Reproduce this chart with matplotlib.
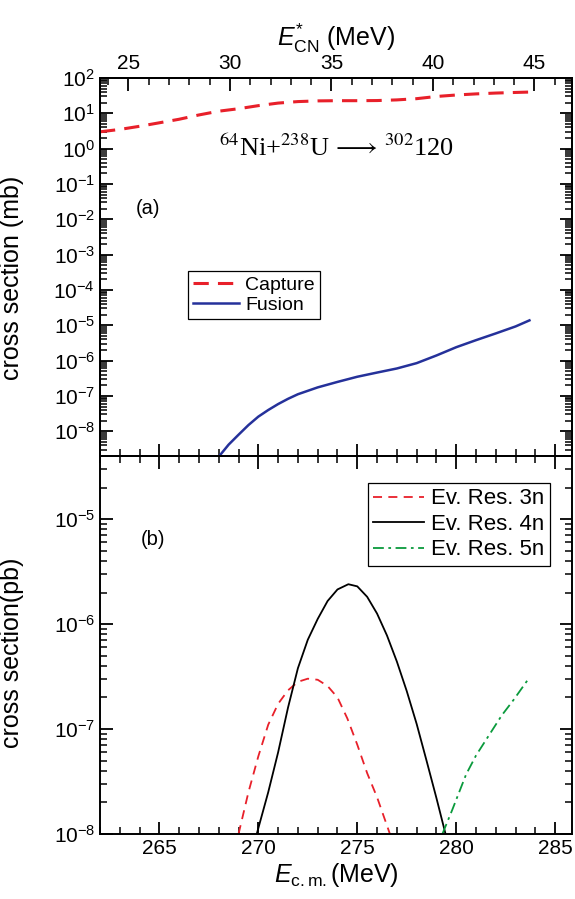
import numpy as np
import matplotlib
matplotlib.use('Agg')
import matplotlib.pyplot as plt
from matplotlib.ticker import LogLocator, FixedLocator, MultipleLocator

plt.rcParams['font.family'] = ['Liberation Sans', 'DejaVu Sans']
plt.rcParams['mathtext.fontset'] = 'custom'
plt.rcParams['mathtext.rm'] = 'Liberation Sans'
plt.rcParams['mathtext.it'] = 'Liberation Sans:italic'
plt.rcParams['axes.linewidth'] = 1.4
for a in ('xtick', 'ytick'):
    plt.rcParams[a + '.direction'] = 'in'
    plt.rcParams[a + '.major.size'] = 9
    plt.rcParams[a + '.minor.size'] = 5
    plt.rcParams[a + '.major.width'] = 1.3
    plt.rcParams[a + '.minor.width'] = 1.1
    plt.rcParams[a + '.labelsize'] = 15
plt.rcParams['ytick.right'] = True

# capture cross section (mb) vs E_cm (MeV)
e_capture = [262.0, 263.0, 264.0, 265.0, 266.0, 267.0, 268.0, 269.0, 270.0, 271.0,
             272.0, 273.0, 274.0, 275.0, 276.0, 277.0, 278.0, 279.0, 280.0, 281.0,
             282.0, 283.0, 283.7]
sigma_capture = [3.0, 3.5, 4.3, 5.4, 6.8, 9.0, 11.5, 13.5, 16.5, 19.5,
                 21.5, 22.5, 22.8, 22.8, 23.0, 24.0, 26.0, 30.0, 33.0, 35.5,
                 37.5, 39.0, 40.0]

# fusion cross section (mb)
e_fusion = [268.03, 268.5, 269.0, 269.5, 270.0, 270.5, 271.0, 271.5, 272.0, 273.0,
            274.0, 275.0, 276.0, 277.0, 278.0, 279.0, 280.0, 281.0, 282.0, 283.0, 283.7]
sigma_fusion = [2.0e-9, 4.2e-9, 8.0e-9, 1.5e-8, 2.6e-8, 4.0e-8, 5.9e-8, 8.3e-8, 1.12e-7, 1.75e-7,
                2.5e-7, 3.5e-7, 4.6e-7, 6.0e-7, 8.5e-7, 1.4e-6, 2.4e-6, 3.8e-6, 5.9e-6, 9.3e-6, 1.38e-5]

# evaporation residues (pb)
e_3n = [269.0, 269.5, 270.0, 270.5, 271.0, 271.5, 272.0, 272.5, 273.0, 273.5,
        274.0, 274.5, 275.0, 275.5, 276.0, 276.65]
sigma_3n = [1.0e-8, 2.5e-8, 5.5e-8, 1.1e-7, 1.74e-7, 2.34e-7, 2.82e-7, 3.02e-7, 2.95e-7, 2.57e-7,
            2.0e-7, 1.26e-7, 7.1e-8, 3.8e-8, 2.24e-8, 1.0e-8]

e_4n = [269.92, 270.5, 271.0, 271.5, 272.0, 272.5, 273.0, 273.5, 274.0, 274.55,
        275.0, 275.5, 276.0, 276.5, 277.0, 277.5, 278.0, 278.5, 279.0, 279.46]
sigma_4n = [1.0e-8, 2.5e-8, 6.0e-8, 1.6e-7, 3.8e-7, 7.1e-7, 1.12e-6, 1.66e-6, 2.14e-6, 2.4e-6,
            2.29e-6, 1.82e-6, 1.26e-6, 7.8e-7, 4.4e-7, 2.3e-7, 1.12e-7, 5.0e-8, 2.2e-8, 1.0e-8]

e_5n = [279.3, 279.8, 280.5, 281.0, 281.7, 282.3, 282.9, 283.7]
sigma_5n = [1.0e-8, 1.7e-8, 3.7e-8, 5.6e-8, 9.0e-8, 1.35e-7, 1.9e-7, 3.1e-7]

RED = '#e8202a'
BLUE = '#25319a'
GREEN = '#0a9a3c'

fig, (ax1, ax2) = plt.subplots(2, 1, figsize=(5.75, 8.99), dpi=100, sharex=True)
fig.subplots_adjust(left=100 / 575, right=572 / 575, bottom=65 / 899, top=821 / 899, hspace=0)

for ax, ylim in ((ax1, (2.0e-9, 100)), (ax2, (1e-8, 4e-5))):
    ax.set_yscale('log')
    ax.set_ylim(*ylim)
    ax.set_xlim(262, 285.85)
    ax.xaxis.set_major_locator(MultipleLocator(5))
    ax.xaxis.set_minor_locator(MultipleLocator(1))
    ax.yaxis.set_major_locator(LogLocator(base=10, numticks=30))
    # 2..9 x 10^n minor ticks
    ax.yaxis.set_minor_locator(FixedLocator([m * 10.0 ** d for d in range(-11, 3)
                                             for m in range(2, 10)]))
ax2.tick_params(axis='x', which='both', top=True)

# panel (a): capture and fusion
ax1.plot(e_capture, sigma_capture, color=RED, lw=2.2, dashes=(5, 3), label='Capture')
ax1.plot(e_fusion, sigma_fusion, color=BLUE, lw=1.8, label='Fusion')
ax1.set_ylabel('cross section (mb)', fontsize=18)
ax1.yaxis.set_label_coords(-0.16, 0.47)
ax1.text(0.102, 0.656, '(a)', transform=ax1.transAxes, fontsize=14.5, ha='center', va='center')
ax1.text(0.5, 0.815, r'$^{64}$Ni+$^{238}$U$\,\longrightarrow\,^{302}$120',
         transform=ax1.transAxes, fontsize=19, ha='center', va='center',
         family='Liberation Serif', math_fontfamily='stix')
leg1 = ax1.legend(loc='upper left', bbox_to_anchor=(0.186, 0.489), borderaxespad=0,
                  fontsize=14, fancybox=False, framealpha=1, edgecolor='black',
                  handlelength=2.4, handletextpad=0.3, borderpad=0.25, labelspacing=0.15)
leg1.get_frame().set_linewidth(0.9)

# excitation energy of the compound nucleus on top
ax_top = ax1.twiny()
ax_top.set_xlim(23.6, 46.85)
ax_top.xaxis.set_major_locator(MultipleLocator(5))
ax_top.xaxis.set_minor_locator(MultipleLocator(1))
ax_top.set_xlabel(r'$E^{*}_{\rm CN}$ (MeV)', fontsize=18, labelpad=6)

# panel (b): evaporation residues
ax2.plot(e_3n, sigma_3n, color=RED, lw=1.3, dashes=(5, 3.5), label='Ev. Res. 3n')
ax2.plot(e_4n, sigma_4n, color='black', lw=1.3, label='Ev. Res. 4n')
ax2.plot(e_5n, sigma_5n, color=GREEN, lw=1.3, dashes=(6, 2.5, 1.5, 2.5), label='Ev. Res. 5n')
ax2.set_ylabel('cross section(pb)', fontsize=18)
ax2.yaxis.set_label_coords(-0.16, 0.48)
ax2.set_xlabel(r'$E_{\rm c.m.}$(MeV)', fontsize=18, labelpad=2)
ax2.text(0.112, 0.778, '(b)', transform=ax2.transAxes, fontsize=14.5, ha='center', va='center')
leg2 = ax2.legend(loc='upper right', bbox_to_anchor=(0.953, 0.929), borderaxespad=0,
                  fontsize=16, fancybox=False, framealpha=1, edgecolor='black',
                  handlelength=2.3, handletextpad=0.3, borderpad=0.25, labelspacing=0.2)
leg2.get_frame().set_linewidth(0.9)

fig.savefig('out.png', dpi=100)
